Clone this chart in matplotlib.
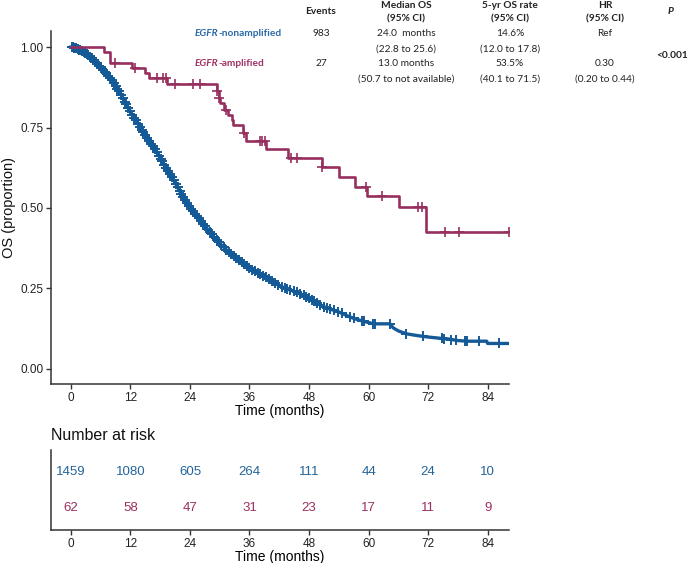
import numpy as np
import matplotlib
matplotlib.use("Agg")
import matplotlib.pyplot as plt

# ---------------- data ----------------
blue_t = [0, 1, 2, 3, 4, 5, 6, 7, 8, 9, 10, 11, 12, 13, 14, 15, 16, 17, 18, 19, 20, 21, 22, 23, 24,
          25, 26, 27, 28, 29, 30, 31, 32, 33, 34, 35, 36, 37, 38, 39, 40, 41, 42, 43, 44, 45, 46, 47,
          48, 49, 50, 51, 52, 53, 54, 55, 56, 57, 58, 59, 60, 61, 64.3, 65.0, 66.0, 67.6, 70.0, 72.0,
          74.5, 76.0, 78.0, 80.0, 83.8, 84.0, 88.3]
blue_s = [1.0, 0.997, 0.99, 0.98, 0.968, 0.953, 0.937, 0.92, 0.902, 0.88, 0.855, 0.828, 0.80, 0.775,
          0.75, 0.728, 0.705, 0.68, 0.655, 0.63, 0.605, 0.578, 0.55, 0.525, 0.50, 0.482, 0.465, 0.445,
          0.425, 0.407, 0.39, 0.375, 0.36, 0.348, 0.336, 0.324, 0.313, 0.304, 0.296, 0.288, 0.279,
          0.269, 0.259, 0.252, 0.246, 0.241, 0.235, 0.228, 0.22, 0.21, 0.201, 0.193, 0.187, 0.182,
          0.177, 0.17, 0.163, 0.157, 0.152, 0.148, 0.144, 0.140, 0.140, 0.127, 0.118, 0.109, 0.103,
          0.099, 0.095, 0.093, 0.088, 0.086, 0.086, 0.079, 0.079]
blue_cens = [0.2, 0.4, 0.6, 0.9, 1.1, 1.4, 1.7, 1.9, 2.3, 2.6, 2.8, 3.2, 3.5, 3.9, 4.2, 4.6, 4.9, 5.3,
             5.7, 6.0, 6.4, 6.8, 7.1, 7.5, 7.9, 8.2, 8.6, 9.0, 9.4, 9.7, 10.1, 10.5, 10.9, 11.2, 11.6,
             12.0, 12.4, 12.8, 13.1, 13.5, 13.9, 14.3, 14.6, 15.0, 15.4, 15.8, 16.2, 16.5, 16.9, 17.3,
             17.7, 18.1, 18.4, 18.8, 19.2, 19.6, 20.0, 20.3, 20.7, 21.1, 21.5, 21.9, 22.2, 22.6, 23.0,
             23.4, 23.8, 24.2, 24.6, 25.0, 25.4, 25.8, 26.2, 26.7, 27.1, 27.5, 28.0, 28.4, 28.9, 29.4,
             29.8, 30.3, 30.8, 31.3, 31.8, 32.3, 32.8, 33.3, 33.9, 34.4, 34.9, 35.5, 36.0, 36.6, 37.1,
             37.7, 38.2, 38.8, 39.4, 40.0, 40.6, 41.2, 41.8, 42.5, 43.1, 43.6, 44.2, 44.9, 45.5, 46.2,
             46.9, 47.4, 47.9, 48.5, 49.0, 49.6, 50.2, 51.0, 51.6, 52.3, 53.0, 53.8, 54.6, 56.3, 57.0,
             58.7, 59.1, 60.9, 61.3, 64.3, 67.6, 71.0, 74.7, 75.1, 76.7, 77.7, 79.4, 79.8, 82.3, 86.3]

red_t = [0, 6.7, 7.9, 12.4, 14.9, 15.8, 19.3, 29.4, 29.8, 30.1, 30.9, 31.7, 32.4, 32.7, 34.7, 35.2,
         39.4, 43.8, 50.7, 54.1, 57.3, 59.6, 66.1, 71.5, 88.3]
red_s = [1.0, 0.984, 0.952, 0.936, 0.920, 0.904, 0.885, 0.862, 0.841, 0.825, 0.805, 0.789, 0.773,
         0.758, 0.732, 0.709, 0.682, 0.656, 0.628, 0.597, 0.566, 0.537, 0.502, 0.426, 0.426]
red_cens = [8.9, 13.0, 17.3, 18.6, 19.2, 21.0, 24.7, 26.0, 29.4, 29.9, 31.2, 34.9, 38.1, 38.6, 39.1,
            44.3, 45.5, 50.7, 59.5, 62.8, 70.0, 70.8, 75.5, 78.3, 88.3]

risk_times = [0, 12, 24, 36, 48, 60, 72, 84]
risk_blue = [1459, 1080, 605, 264, 111, 44, 24, 10]
risk_red = [62, 58, 47, 31, 23, 17, 11, 9]

y_ticks = [0.0, 0.25, 0.5, 0.75, 1.0]
y_ticklabels = ["0.00", "0.25", "0.50", "0.75", "1.00"]

header_cols = ["Events", "Median OS\n(95% CI)", "5-yr OS rate\n(95% CI)", "HR\n(95% CI)"]
row_nonamp = ["983", "24.0  months", "(22.8 to 25.6)", "14.6%", "(12.0 to 17.8)", "Ref", ""]
row_amp = ["27", "13.0 months", "(50.7 to not available)", "53.5%", "(40.1 to 71.5)", "0.30",
           "(0.20 to 0.44)"]
p_value = "<0.001"

# ---------------- style ----------------
BLUE = "#135A97"
RED = "#972F5E"
BLUE_TXT = "#2A68A8"
RED_TXT = "#A03266"
RISK_BLUE = "#23649B"
RISK_RED = "#9B2F60"
SPINE = "#333333"

W, H = 689, 563
fig = plt.figure(figsize=(W / 100, H / 100), dpi=100)

def ax_rect(l, t, r, b):
    return [l / W, 1 - b / H, (r - l) / W, (b - t) / H]

XLIM = (-4.0, 88.3)
ax = fig.add_axes(ax_rect(51, 31, 509, 384))
ax.set_xlim(*XLIM)
ax.set_ylim(-0.047, 1.05)

AXFONT = "Liberation Sans"

ax.plot(blue_t, blue_s, color=BLUE, lw=2.4, solid_joinstyle="round", zorder=3)
ax.plot(blue_cens, np.interp(blue_cens, blue_t, blue_s), ls="none", marker="+", ms=6.5, mew=1.4,
        color=BLUE, zorder=3)
ax.step(red_t, red_s, where="post", color=RED, lw=1.9, zorder=4)
red_cs = [red_s[max(i for i, t in enumerate(red_t) if t <= c)] for c in red_cens]
ax.plot(red_cens, red_cs, ls="none", marker="+", ms=7, mew=1.2, color=RED, zorder=4)

for s in ["top", "right"]:
    ax.spines[s].set_visible(False)
for s in ["left", "bottom"]:
    ax.spines[s].set_color(SPINE)
    ax.spines[s].set_linewidth(1.1)
ax.set_xticks(risk_times)
ax.set_xticklabels([str(t) for t in risk_times], fontsize=8.5, family=AXFONT, color="#222222")
ax.set_yticks(y_ticks)
ax.set_yticklabels(y_ticklabels, fontsize=8.5, family=AXFONT, color="#222222")
ax.tick_params(length=3.5, width=1.0, color=SPINE, pad=2)
ax.set_xlabel("Time (months)", fontsize=10, family=AXFONT, labelpad=0)
fig.text(9 / W, 1 - 207.5 / H, "OS (proportion)", rotation=90, ha="center", va="center",
         fontsize=10.5, family=AXFONT, color="#111111")

# risk table
rax = fig.add_axes(ax_rect(51, 450, 509, 530))
rax.set_xlim(*XLIM)
rax.set_ylim(0.4, 2.6)
for s in ["top", "right"]:
    rax.spines[s].set_visible(False)
for s in ["left", "bottom"]:
    rax.spines[s].set_color(SPINE)
    rax.spines[s].set_linewidth(1.1)
rax.set_yticks([])
rax.set_xticks(risk_times)
rax.set_xticklabels([str(t) for t in risk_times], fontsize=8.5, family=AXFONT, color="#222222")
rax.tick_params(length=3.5, width=1.0, color=SPINE, pad=2)
rax.set_xlabel("Time (months)", fontsize=10, family=AXFONT, labelpad=0)
for t, nb, nr in zip(risk_times, risk_blue, risk_red):
    rax.text(t, 2, str(nb), ha="center", va="center", fontsize=9.5, family=AXFONT, color=RISK_BLUE)
    rax.text(t, 1, str(nr), ha="center", va="center", fontsize=9.5, family=AXFONT, color=RISK_RED)
fig.text(51 / W, 1 - 435 / H, "Number at risk", ha="left", va="center", fontsize=11.5,
         family=AXFONT, color="#111111")

# ---------------- summary table ----------------
TF = "Lato"
TS = 7.3
def ft(x, y, s, **kw):
    kw.setdefault("fontsize", TS)
    kw.setdefault("family", TF)
    kw.setdefault("color", "#222222")
    return fig.text(x / W, 1 - y / H, s, va="center", **kw)

col_x = [321, 406, 510, 605]
for cx, hdr in zip(col_x, header_cols):
    lines = hdr.split("\n")
    if len(lines) == 1:
        ft(cx, 12, lines[0], ha="center", fontweight="bold")
    else:
        ft(cx, 5, lines[0], ha="center", fontweight="bold")
        ft(cx, 19, lines[1], ha="center", fontweight="bold")
ft(671, 12, "P", ha="center", fontweight="bold", style="italic")

renderer = fig.canvas.get_renderer()
def label(x, y, color, rest):
    t1 = ft(x, y, "EGFR", ha="left", fontweight="bold", style="italic", color=color)
    bb = t1.get_window_extent(renderer=renderer)
    ft(bb.x1, y, rest, ha="left", fontweight="bold", color=color)

label(195, 34, BLUE_TXT, "-nonamplified")
label(195, 64, RED_TXT, "-amplified")

rows = [(34, 49, row_nonamp), (64, 79, row_amp)]
for y1, y2, r in rows:
    ft(321, y1, r[0], ha="center")
    ft(406, y1, r[1], ha="center")
    ft(406, y2, r[2], ha="center")
    ft(510, y1, r[3], ha="center")
    ft(510, y2, r[4], ha="center")
    ft(605, y1, r[5], ha="center")
    if r[6]:
        ft(605, y2, r[6], ha="center")
ft(672, 56, p_value, ha="center", fontweight="bold")

fig.savefig("out.png", dpi=100)
